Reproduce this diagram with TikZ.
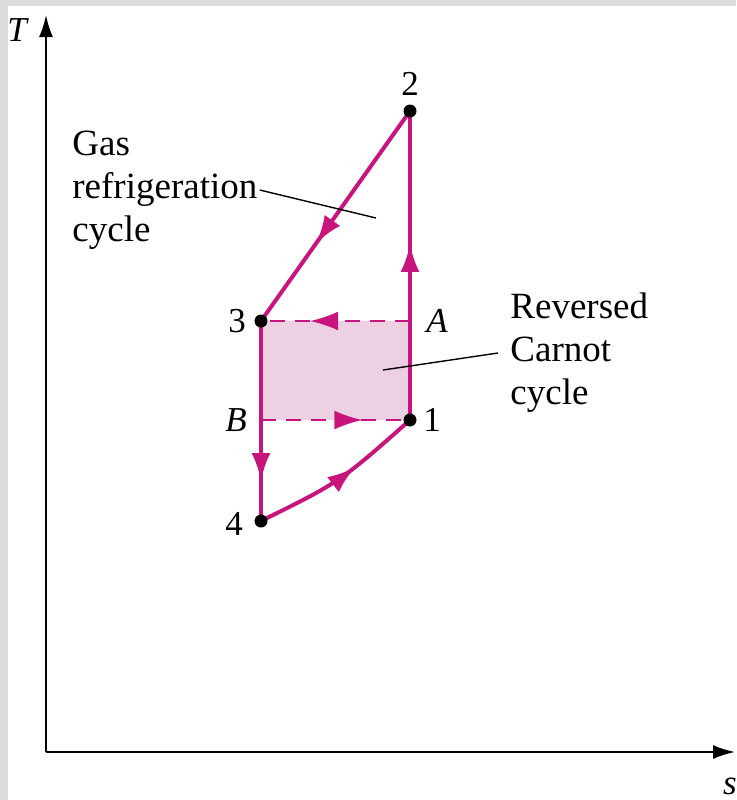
\documentclass[tikz,border=0pt]{standalone}
\usepackage{fontspec}
\setmainfont{Liberation Serif}
\usetikzlibrary{arrows.meta,decorations.markings}
\definecolor{cyclemag}{RGB}{200,20,125}
\definecolor{carnotfill}{RGB}{237,208,226}
\definecolor{framegray}{RGB}{220,220,220}

\begin{document}
\begin{tikzpicture}[x=0.5pt, y=-0.5pt,
    axis/.style={line width=1pt, -{Latex[length=11pt,width=7pt]}},
    proc/.style={cyclemag, line width=2pt},
    isoline/.style={cyclemag, line width=1pt, dash pattern=on 7.5pt off 5pt},
    midarrow/.style={postaction={decorate}, decoration={markings,
        mark=at position #1 with {\arrow[cyclemag]{Latex[length=14pt,width=9.5pt]}}}},
    dot/.style={circle, fill=black, inner sep=0pt, minimum size=6.5pt},
    lbl/.style={font=\fontsize{17.5}{20}\selectfont},
    ital/.style={font=\fontsize{17.5}{20}\selectfont\itshape},
    note/.style={font=\fontsize{18.5}{21.5}\selectfont, align=left, anchor=west},
    leader/.style={line width=0.7pt},
]
    % frame and page
    \fill[framegray] (0,0) rectangle (736,800);
    \fill[white] (8,6) rectangle (736,800);
    \useasboundingbox (0,0) rectangle (736,800);

    % axes
    \coordinate (O) at (46,752);
    \coordinate (Ttip) at (46,15);
    \coordinate (stip) at (735,752);
    \draw[axis] (O) -- (Ttip);
    \draw[axis] (O) -- (stip);
    \node[ital] (Tlab) at (17,30) {T};
    \node[ital] (slab) at (730,786) {s};

    % states
    \coordinate (p2) at (410,111);
    \coordinate (p3) at (261,321);
    \coordinate (p1) at (410,420);
    \coordinate (p4) at (261,521);
    \coordinate (pA) at (410,321);
    \coordinate (pB) at (261,420);

    \fill[carnotfill] (p3) rectangle (p1);

    \draw[isoline, midarrow=0.67] (pA) -- (p3);
    \draw[isoline, midarrow=0.68] (pB) -- (p1);

    \draw[proc, midarrow=0.63] (p2) -- (p3);
    \draw[proc, midarrow=0.8] (p3) -- (p4);
    \draw[proc, midarrow=0.6] (p4) .. controls (340,482) .. (p1);
    \draw[proc, midarrow=0.57] (p1) -- (p2);

    \node[dot] (d1) at (p1) {};
    \node[dot] (d2) at (p2) {};
    \node[dot] (d3) at (p3) {};
    \node[dot] (d4) at (p4) {};

    \node[lbl] (l2) at (410,84) {2};
    \node[lbl] (l3) at (237,321) {3};
    \node[ital] (lA) at (437,321) {A};
    \node[lbl] (l1) at (432,420) {1};
    \node[ital] (lB) at (236,420) {B};
    \node[lbl] (l4) at (234,524) {4};

    % captions
    \node[note, inner xsep=1pt] (gas) at (70,190) {Gas\\refrigeration\\cycle};
    \coordinate (gaspt) at (376,218);
    \draw[leader] (gas.east) -- (gaspt);

    \node[note, inner xsep=6pt] (carnot) at (498,353) {Reversed\\Carnot\\cycle};
    \coordinate (carnotpt) at (383,370);
    \draw[leader] (carnot.west) -- (carnotpt);
\end{tikzpicture}
\end{document}
